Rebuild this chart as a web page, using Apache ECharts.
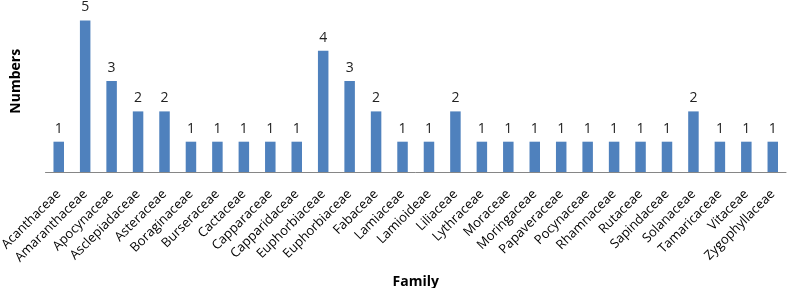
<!DOCTYPE html>
<html>
<head>
<meta charset="utf-8">
<script src="https://cdn.jsdelivr.net/npm/echarts@6/dist/echarts.min.js"></script>
<style>
  html, body { margin: 0; padding: 0; background: #fff; }
  #chart { width: 787px; height: 288px; }
</style>
</head>
<body>
<div id="chart"></div>
<script>
const families = [
  'Acanthaceae', 'Amaranthaceae', 'Apocynaceae', 'Asclepiadaceae', 'Asteraceae',
  'Boraginaceae', 'Burseraceae', 'Cactaceae', 'Capparaceae', 'Capparidaceae',
  'Euphorbiaceae', 'Euphorbiaceae', 'Fabaceae', 'Lamiaceae', 'Lamioideae',
  'Liliaceae', 'Lythraceae', 'Moraceae', 'Moringaceae', 'Papaveraceae',
  'Pocynaceae', 'Rhamnaceae', 'Rutaceae', 'Sapindaceae', 'Solanaceae',
  'Tamaricaceae', 'Vitaceae', 'Zygophyllaceae'
];
const numbers = [1, 5, 3, 2, 2, 1, 1, 1, 1, 1, 4, 3, 2, 1, 1, 2, 1, 1, 1, 1, 1, 1, 1, 1, 2, 1, 1, 1];

const font = 'Open Sans, sans-serif';
const chart = echarts.init(document.getElementById('chart'));

const option = {
  animation: false,
  grid: {
    left: 45.5,
    right: 1,
    top: 20.5,
    bottom: 116,
    containLabel: false,
    outerBoundsMode: 'none'
  },
  xAxis: {
    type: 'category',
    data: families,
    name: 'Family',
    nameLocation: 'middle',
    nameGap: 103,
    nameTextStyle: { fontFamily: font, fontSize: 14, fontWeight: 'bold', color: '#000' },
    axisLine: { lineStyle: { color: '#868686', width: 1 } },
    axisTick: { show: false },
    axisLabel: {
      interval: 0,
      rotate: 45,
      margin: 20,
      fontFamily: font,
      fontSize: 13,
      color: '#000'
    }
  },
  yAxis: {
    type: 'value',
    min: 0,
    max: 5,
    name: 'Numbers',
    nameLocation: 'middle',
    nameRotate: 90,
    nameGap: 22,
    nameTextStyle: {
      fontFamily: font, fontSize: 14, fontWeight: 'bold', color: '#000',
      padding: [0, 0, 0, 30]
    },
    axisLine: { show: false },
    axisTick: { show: false },
    axisLabel: { show: false },
    splitLine: { show: false }
  },
  series: [
    {
      type: 'bar',
      data: numbers,
      barWidth: 10.5,
      itemStyle: { color: '#4F81BD' },
      label: {
        show: true,
        position: 'top',
        distance: 6,
        fontFamily: font,
        fontSize: 14,
        color: '#222'
      }
    }
  ]
};

chart.setOption(option);
</script>
</body>
</html>
